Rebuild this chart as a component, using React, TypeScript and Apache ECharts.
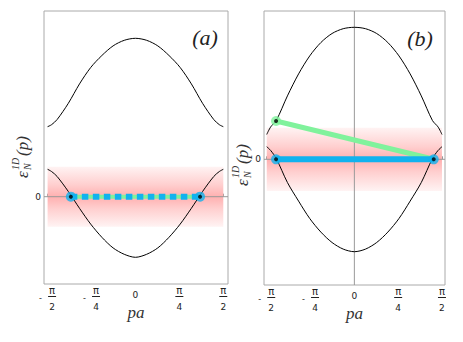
import React, { useEffect, useRef } from "react";
import * as echarts from "echarts";

const PI = Math.PI;

// x tick positions and labels
const tickValues = [-PI / 2, -PI / 4, 0, PI / 4, PI / 2];
const tickLabels = ["-π/2", "-π/4", "0", "π/4", "π/2"];

// Panel (a) bands
const aP = [-1.571, -1.5, -1.4, -1.2, -1.0, -0.8, -0.6, -0.4, -0.2, 0, 0.2, 0.4, 0.6, 0.8, 1.0, 1.2, 1.4, 1.5, 1.571];
const aUpper = [3.5, 3.6, 3.86, 4.67, 5.64, 6.46, 7.06, 7.54, 7.82, 7.92, 7.82, 7.54, 7.06, 6.46, 5.64, 4.67, 3.86, 3.6, 3.5];
const aLower = [1.37, 1.26, 1.01, 0.26, -0.58, -1.37, -2.03, -2.56, -2.88, -3.03, -2.88, -2.56, -2.03, -1.37, -0.58, 0.26, 1.01, 1.26, 1.37];
const aSegX = [-1.155, 1.155];
const aSegY = [0, 0];
const aBand = [-1.5, 1.5];

// Panel (b) bands
const bP = [-1.571, -1.5, -1.4, -1.2, -1.0, -0.8, -0.6, -0.4, -0.2, 0, 0.2, 0.4, 0.6, 0.8, 1.0, 1.2, 1.4, 1.5, 1.571];
const bUpper = [1.24, 1.62, 1.94, 3.17, 4.27, 5.17, 5.84, 6.29, 6.53, 6.6, 6.53, 6.29, 5.84, 5.17, 4.27, 3.17, 1.94, 1.62, 1.24];
const bLower = [0.63, 0.44, 0.04, -1.16, -2.09, -2.96, -3.64, -4.16, -4.49, -4.62, -4.49, -4.16, -3.64, -2.96, -2.09, -1.16, 0.04, 0.44, 0.63];
const bGreenX = [-1.404, 1.423];
const bGreenY = [1.915, 0];
const bBlueX = [-1.404, 1.423];
const bBlueY = [0, 0];
const bBand = [-1.58, 1.58];

// axis extents
const aXRange = [-1.635, 1.655];
const aYRange = [-4.365, 9.285];
const bXRange = [-1.62, 1.625];
const bYRange = [-6.285, 7.415];

const BLUE = "#12b2ee";
const GREEN = "#80f29c";
const FRAME = "#aaaaaa";
const TXT = "#222";

const zip = (xs: number[], ys: number[]) => xs.map((x, i) => [x, ys[i]]);

function nearestTick(v: number) {
  let idx = 0;
  let best = Infinity;
  tickValues.forEach((t, i) => {
    if (Math.abs(t - v) < best) {
      best = Math.abs(t - v);
      idx = i;
    }
  });
  return idx;
}

function fracLabel(v: number) {
  const s = tickLabels[nearestTick(v)];
  if (s === "0") return "{e1| }\n{z|0}\n{e2| }";
  const neg = s.startsWith("-");
  const [num, den] = s.replace("-", "").split("/");
  if (neg) return `{mp| }{num|${num}}\n{m|-}{gap| }\n{mp| }{den|${den}}`;
  return `{num|${num}}\n{gap| }\n{den|${den}}`;
}

const rich = {
  num: { fontSize: 10, width: 8, align: "center", lineHeight: 10, fontFamily: "DejaVu Sans", color: TXT },
  den: { fontSize: 9, width: 8, align: "center", lineHeight: 12, fontFamily: "DejaVu Sans", color: TXT },
  mp: { width: 9, fontSize: 1, lineHeight: 1 },
  m: { width: 9, align: "left", fontSize: 8, lineHeight: 6, fontFamily: "DejaVu Sans", color: TXT },
  gap: { width: 8, fontSize: 1, lineHeight: 6 },
  e1: { fontSize: 1, lineHeight: 5 },
  e2: { fontSize: 1, lineHeight: 13 },
  z: { fontSize: 9, lineHeight: 10, fontFamily: "DejaVu Sans", color: TXT },
};

const mkX = (gridIndex: number, range: number[]) => ({
  type: "value",
  gridIndex,
  min: range[0],
  max: range[1],
  axisLine: { show: false },
  splitLine: { show: false },
  axisTick: { show: true, inside: true, length: 3, customValues: tickValues, lineStyle: { color: "#999" } },
  axisLabel: { show: true, customValues: tickValues, formatter: fracLabel, rich, margin: 1, color: TXT },
  name: "pa",
  nameLocation: "middle",
  nameGap: 20,
  nameMoveOverlap: false,
  nameTextStyle: { fontFamily: "Liberation Serif", fontStyle: "italic", fontSize: 17, color: "#333" },
});

const mkY = (gridIndex: number, range: number[]) => ({
  type: "value",
  gridIndex,
  min: range[0],
  max: range[1],
  axisLine: { show: false },
  splitLine: { show: false },
  axisTick: { show: true, length: 3, customValues: [0], lineStyle: { color: "#999" } },
  axisLabel: { show: true, customValues: [0], fontSize: 9, margin: 3, color: TXT, fontFamily: "DejaVu Sans" },
});

const bandGradient = () =>
  new echarts.graphic.LinearGradient(0, 0, 0, 1, [
    { offset: 0, color: "#fff3f3" },
    { offset: 0.3, color: "#ffcfcf" },
    { offset: 0.5, color: "#ffb0b0" },
    { offset: 0.7, color: "#ffcfcf" },
    { offset: 1, color: "#fff3f3" },
  ]);

const yLabel = (x: number, y: number) => ({
  type: "group",
  x,
  y,
  rotation: PI / 2,
  children: [
    { type: "text", x: 0, y: 0, style: { text: "ε", fontSize: 17, fontFamily: "Liberation Serif", fontStyle: "italic", fill: "#333", verticalAlign: "middle", align: "left" } },
    { type: "text", x: 8, y: -7, style: { text: "1D", fontSize: 10, fontFamily: "Liberation Serif", fontStyle: "italic", fill: "#333", verticalAlign: "middle", align: "left" } },
    { type: "text", x: 8, y: 5, style: { text: "N", fontSize: 10, fontFamily: "Liberation Serif", fontStyle: "italic", fill: "#333", verticalAlign: "middle", align: "left" } },
    { type: "text", x: 22, y: 0, style: { text: "(p)", fontSize: 17, fontFamily: "Liberation Serif", fontStyle: "italic", fill: "#333", verticalAlign: "middle", align: "left" } },
  ],
});

function panelSeries(
  idx: number,
  P: number[],
  up: number[],
  lo: number[],
  band: number[],
  xr: number[],
  yr: number[],
  vertical: boolean
) {
  const s: any[] = [
    {
      type: "line",
      xAxisIndex: idx,
      yAxisIndex: idx,
      data: [],
      silent: true,
      markArea: {
        silent: true,
        itemStyle: { color: bandGradient() },
        data: [[{ coord: [-PI / 2, band[1]] }, { coord: [PI / 2, band[0]] }]],
      },
    },
    {
      type: "line",
      xAxisIndex: idx,
      yAxisIndex: idx,
      data: [[xr[0], 0], [xr[1], 0]],
      showSymbol: false,
      silent: true,
      z: 2,
      lineStyle: { color: "#999", width: 1 },
    },
  ];
  if (vertical) {
    s.push({
      type: "line",
      xAxisIndex: idx,
      yAxisIndex: idx,
      data: [[0, yr[0]], [0, yr[1]]],
      showSymbol: false,
      silent: true,
      z: 2,
      lineStyle: { color: "#999", width: 1 },
    });
  }
  s.push(
    {
      type: "line",
      xAxisIndex: idx,
      yAxisIndex: idx,
      data: zip(P, up),
      smooth: 0.3,
      showSymbol: false,
      z: 2,
      lineStyle: { color: "#000", width: 1 },
    },
    {
      type: "line",
      xAxisIndex: idx,
      yAxisIndex: idx,
      data: zip(P, lo),
      smooth: 0.3,
      showSymbol: false,
      z: 2,
      lineStyle: { color: "#000", width: 1 },
    }
  );
  return s;
}

export default function App() {
  const ref = useRef<HTMLDivElement>(null);
  useEffect(() => {
    if (!ref.current) return;
    const chart = echarts.init(ref.current, null, { renderer: "svg" });
    const series: any[] = [
      ...panelSeries(0, aP, aUpper, aLower, aBand, aXRange, aYRange, false),
      {
        type: "line",
        xAxisIndex: 0,
        yAxisIndex: 0,
        data: zip(aSegX, aSegY),
        showSymbol: false,
        z: 3,
        lineStyle: { color: GREEN, width: 4 },
      },
      {
        type: "line",
        xAxisIndex: 0,
        yAxisIndex: 0,
        data: zip(aSegX, aSegY),
        showSymbol: false,
        z: 3,
        lineStyle: { color: BLUE, width: 6, type: [6.5, 4.5], cap: "butt" },
      },
      {
        type: "scatter",
        xAxisIndex: 0,
        yAxisIndex: 0,
        data: zip(aSegX, aSegY),
        symbolSize: 10,
        z: 4,
        itemStyle: { color: BLUE },
      },
      {
        type: "scatter",
        xAxisIndex: 0,
        yAxisIndex: 0,
        data: zip(aSegX, aSegY),
        symbolSize: 4,
        z: 5,
        itemStyle: { color: "#000" },
      },
      ...panelSeries(1, bP, bUpper, bLower, bBand, bXRange, bYRange, true),
      {
        type: "line",
        xAxisIndex: 1,
        yAxisIndex: 1,
        data: zip(bGreenX, bGreenY),
        showSymbol: false,
        z: 3,
        lineStyle: { color: GREEN, width: 5 },
      },
      {
        type: "line",
        xAxisIndex: 1,
        yAxisIndex: 1,
        data: zip(bBlueX, bBlueY),
        showSymbol: false,
        z: 3,
        lineStyle: { color: BLUE, width: 6 },
      },
      {
        type: "scatter",
        xAxisIndex: 1,
        yAxisIndex: 1,
        data: [[bGreenX[0], bGreenY[0]]],
        symbolSize: 10,
        z: 4,
        itemStyle: { color: GREEN },
      },
      {
        type: "scatter",
        xAxisIndex: 1,
        yAxisIndex: 1,
        data: zip(bBlueX, bBlueY),
        symbolSize: 10,
        z: 4,
        itemStyle: { color: BLUE },
      },
      {
        type: "scatter",
        xAxisIndex: 1,
        yAxisIndex: 1,
        data: [...zip(bBlueX, bBlueY), [bGreenX[0], bGreenY[0]]],
        symbolSize: 4,
        z: 5,
        itemStyle: { color: "#000" },
      },
    ];

    chart.setOption({
      animation: false,
      backgroundColor: "#fff",
      grid: [
        { left: 44, top: 11, width: 184, height: 273, show: true, borderColor: FRAME, borderWidth: 1, backgroundColor: "transparent" },
        { left: 264, top: 11, width: 181, height: 274, show: true, borderColor: FRAME, borderWidth: 1, backgroundColor: "transparent" },
      ],
      xAxis: [mkX(0, aXRange), mkX(1, bXRange)],
      yAxis: [mkY(0, aYRange), mkY(1, bYRange)],
      series,
    });

    // fraction bars of the tick labels, placed via the axes' own scales
    const yMins = [aYRange[0], bYRange[0]];
    const bars: any[] = [];
    [0, 1].forEach((gi) => {
      const yb = chart.convertToPixel({ yAxisIndex: gi } as any, yMins[gi]) as number;
      tickValues.forEach((t, i) => {
        const lab = tickLabels[i];
        if (lab === "0") return;
        const x = chart.convertToPixel({ xAxisIndex: gi } as any, t) as number;
        const cx = x + (lab.startsWith("-") ? 4.5 : 0);
        const y = Math.round(yb) + 12.5;
        bars.push({
          type: "line",
          silent: true,
          shape: { x1: cx - 4, y1: y, x2: cx + 4, y2: y },
          style: { stroke: TXT, lineWidth: 1 },
        });
      });
    });

    chart.setOption({
      graphic: [
        yLabel(22, 178),
        yLabel(242, 186),
        { type: "text", x: 205, y: 37, style: { text: "(a)", fontSize: 22, fontFamily: "Liberation Serif", fontStyle: "italic", fill: "#222", align: "center", verticalAlign: "middle" } },
        { type: "text", x: 420, y: 38, style: { text: "(b)", fontSize: 22, fontFamily: "Liberation Serif", fontStyle: "italic", fill: "#222", align: "center", verticalAlign: "middle" } },
        ...bars,
      ],
    });
    return () => chart.dispose();
  }, []);
  return <div ref={ref} style={{ position: "fixed", left: 0, top: 0, width: 463, height: 342 }} />;
}
